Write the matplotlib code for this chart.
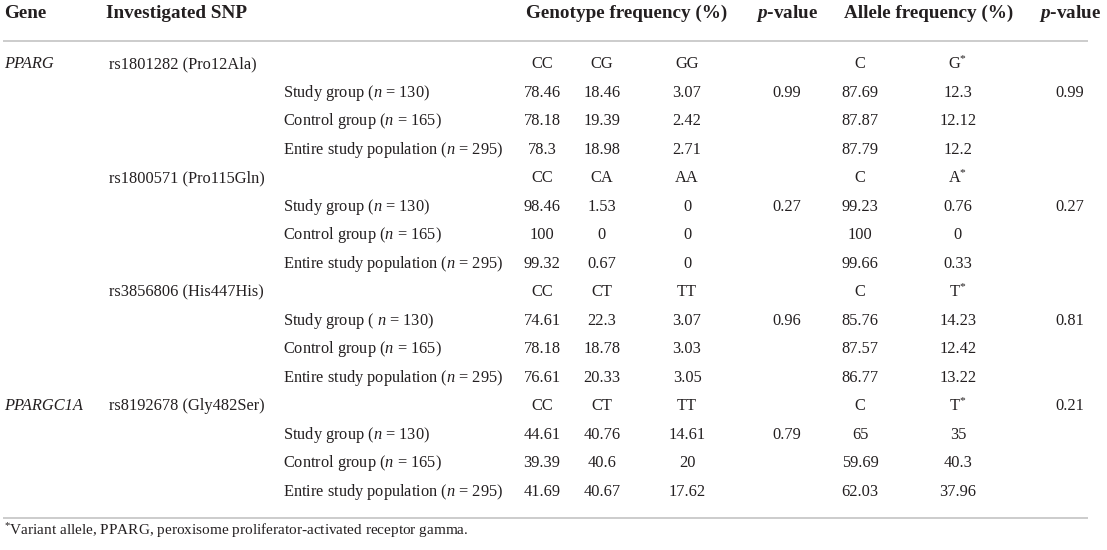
import matplotlib
matplotlib.use("Agg")
import matplotlib.pyplot as plt

plt.rcParams['font.family'] = ['Liberation Serif', 'DejaVu Serif']
plt.rcParams['mathtext.fontset'] = 'custom'
plt.rcParams['mathtext.rm'] = 'Liberation Serif'
plt.rcParams['mathtext.it'] = 'Liberation Serif:italic'
plt.rcParams['mathtext.bf'] = 'Liberation Serif:bold'
plt.rcParams['mathtext.bfit'] = 'Liberation Serif:bold:italic'

# table data
headers = ["Gene", "Investigated SNP", "Genotype frequency (%)", r"$\mathbfit{p}$-value",
           "Allele frequency (%)", r"$\mathbfit{p}$-value"]
genes = ["PPARG", "", "", "PPARGC1A"]
snps = ["rs1801282 (Pro12Ala)", "rs1800571 (Pro115Gln)", "rs3856806 (His447His)", "rs8192678 (Gly482Ser)"]
genotype_labels = [["CC", "CG", "GG"], ["CC", "CA", "AA"], ["CC", "CT", "TT"], ["CC", "CT", "TT"]]
allele_labels = [["C", "G$^{*}$"], ["C", "A$^{*}$"], ["C", "T$^{*}$"], ["C", "T$^{*}$"]]
groups = [
    ["Study group ($n$ = 130)", "Control group ($n$ = 165)", "Entire study population ($n$ = 295)"],
    ["Study group ($n$ = 130)", "Control group ($n$ = 165)", "Entire study population ($n$ = 295)"],
    ["Study group ( $n$ = 130)", "Control group ($n$ = 165)", "Entire study population ($n$ = 295)"],
    ["Study group ($n$ = 130)", "Control group ($n$ = 165)", "Entire study population ($n$ = 295)"],
]
genotype_freq = [
    [["78.46", "18.46", "3.07"], ["78.18", "19.39", "2.42"], ["78.3", "18.98", "2.71"]],
    [["98.46", "1.53", "0"], ["100", "0", "0"], ["99.32", "0.67", "0"]],
    [["74.61", "22.3", "3.07"], ["78.18", "18.78", "3.03"], ["76.61", "20.33", "3.05"]],
    [["44.61", "40.76", "14.61"], ["39.39", "40.6", "20"], ["41.69", "40.67", "17.62"]],
]
genotype_p = ["0.99", "0.27", "0.96", "0.79"]
allele_freq = [
    [["87.69", "12.3"], ["87.87", "12.12"], ["87.79", "12.2"]],
    [["99.23", "0.76"], ["100", "0"], ["99.66", "0.33"]],
    [["85.76", "14.23"], ["87.57", "12.42"], ["86.77", "13.22"]],
    [["65", "35"], ["59.69", "40.3"], ["62.03", "37.96"]],
]
allele_p_group = ["0.99", "0.27", "0.81", ""]
allele_p_snp = ["", "", "", "0.21"]
footnote = r"$^{*}$Variant allele, PPARG, peroxisome proliferator-activated receptor gamma."

W, H = 1107, 550
fig = plt.figure(figsize=(W / 100, H / 100), dpi=100)
ax = fig.add_axes([0, 0, 1, 1])
ax.set_xlim(0, W)
ax.set_ylim(H, 0)
ax.axis("off")

txt = "#231f20"
fs = 11.8
hfs = 13.8
geno_x = [542, 602, 687]
gp_x = 787
allele_x = [860, 958]
ap_x = 1070

# header
hy = 13
ax.text(4, hy, headers[0], fontsize=hfs, fontweight="bold", color=txt, va="center", ha="left")
ax.text(106, hy, headers[1], fontsize=hfs, fontweight="bold", color=txt, va="center", ha="left")
ax.text(627, hy, headers[2], fontsize=hfs, fontweight="bold", color=txt, va="center", ha="center")
ax.text(gp_x, hy, headers[3], fontsize=hfs, fontweight="bold", color=txt, va="center", ha="center")
ax.text(929, hy, headers[4], fontsize=hfs, fontweight="bold", color=txt, va="center", ha="center")
ax.text(ap_x, hy, headers[5], fontsize=hfs, fontweight="bold", color=txt, va="center", ha="center")

ax.plot([3, 1088], [41, 41], color="#c8c8c8", lw=1.3, solid_capstyle="butt")
ax.plot([3, 1088], [518, 518], color="#c8c8c8", lw=1.3, solid_capstyle="butt")

y0, dy = 64, 28.53
row = 0
for b in range(len(snps)):
    y = y0 + row * dy
    ax.text(4, y, genes[b], fontsize=fs, style="italic", color=txt, va="center", ha="left")
    ax.text(109, y, snps[b], fontsize=fs, color=txt, va="center", ha="left")
    for k, lab in enumerate(genotype_labels[b]):
        ax.text(geno_x[k], y, lab, fontsize=fs, color=txt, va="center", ha="center")
    for k, lab in enumerate(allele_labels[b]):
        ax.text(allele_x[k], y, lab, fontsize=fs, color=txt, va="center", ha="center")
    ax.text(ap_x, y, allele_p_snp[b], fontsize=fs, color=txt, va="center", ha="center")
    row += 1
    for g in range(3):
        y = y0 + row * dy
        ax.text(283, y, groups[b][g], fontsize=fs, color=txt, va="center", ha="left")
        for k in range(3):
            ax.text(geno_x[k], y, genotype_freq[b][g][k], fontsize=fs, color=txt, va="center", ha="center")
        for k in range(2):
            ax.text(allele_x[k], y, allele_freq[b][g][k], fontsize=fs, color=txt, va="center", ha="center")
        if g == 0:
            ax.text(gp_x, y, genotype_p[b], fontsize=fs, color=txt, va="center", ha="center")
            ax.text(ap_x, y, allele_p_group[b], fontsize=fs, color=txt, va="center", ha="center")
        row += 1

ax.text(4, 531, footnote, fontsize=11, color=txt, va="center", ha="left")

fig.savefig("out.png", dpi=100)
